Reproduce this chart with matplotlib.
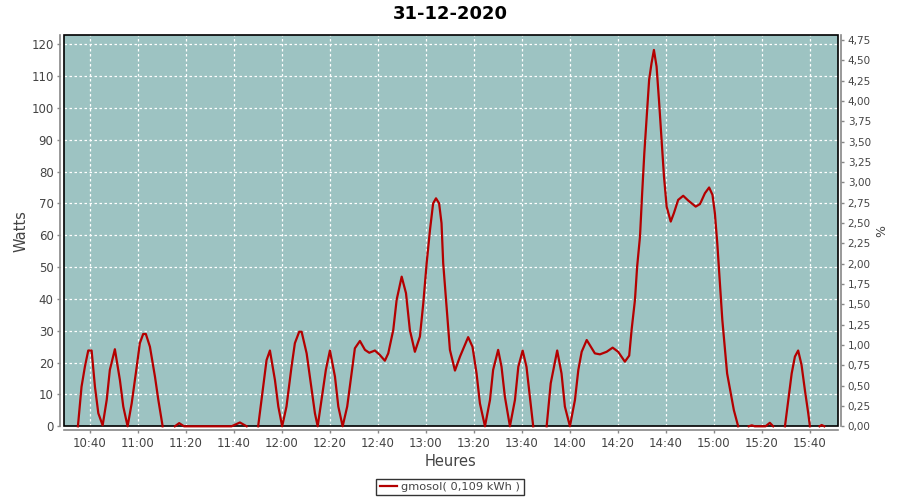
import matplotlib
matplotlib.use("Agg")
import matplotlib.pyplot as plt
from matplotlib.patches import Rectangle
from matplotlib.ticker import FixedLocator, FuncFormatter
import numpy as np

# time in minutes after 10:00, power in watts (nan = no reading)
minutes = [35.0, 36.5, 37.9, 39.3, 40.7, 42.1, 43.5, 45.3, 47.0, 48.3, 50.4, 52.5, 53.9, 55.7,
           57.4, 59.5, 60.8, 62.2, 63.3, 65.0, 67.1, 68.5, 70.3, 72.5, 75.4, 77.2, 79.2, 99.0, 102.5,
           105.3, 107.5, 110.1, 112.2, 113.6, 115.0, 117.1, 118.5, 120.1, 121.9, 124.0, 125.4, 127.2,
           128.2, 130.3, 132.4, 133.75, 134.9, 136.5, 138.3, 140.0, 142.1, 143.5, 145.3, 147.2,
           149.0, 150.4, 152.5, 154.6, 156.4, 158.75, 160.8, 162.9, 164.3, 166.4, 167.8, 169.9,
           171.7, 173.3, 175.4, 177.5, 178.9, 180.3, 181.7, 183.0, 184.2, 185.5, 186.5, 187.2,
           188.6, 190.0, 192.1, 194.2, 197.6, 199.4, 201.1, 202.5, 204.6, 206.7, 208.0, 210.1,
           211.5, 212.9, 215.0, 217.1, 218.5, 220.3, 221.9, 223.3, 224.7, 227.5, 230.3, 232.0, 234.7,
           236.5, 237.9, 240.0, 242.1, 243.5, 244.9, 247.0, 248.3, 250.4, 252.5, 255.3, 257.8,
           260.1, 262.9, 264.7, 265.7, 267.1, 268.0, 269.2, 270.1, 271.0, 272.0, 273.0, 274.0,
           275.0, 276.1, 277.1, 278.2, 279.2, 280.3, 282.0, 283.3, 285.1, 287.2, 289.3, 292.4,
           294.2, 296.25, 298.0, 299.4, 300.4, 301.4, 302.5, 303.5, 304.6, 305.5, 307.0, 308.3,
           310.1, 312.0, 314.5, 315.8, 317.0, 321.5, 323.3, 324.7, 327.0, 329.6, 331.0, 332.4, 333.75,
           335.1, 336.5, 337.9, 339.3, 340.0, 342.0, 344.0, 344.9, 346.0]
watts = [0, 12.4, 18.7, 23.8, 23.8, 12.4, 4.1, 0.3, 8.3, 17.7, 24.2, 14.5, 6.2, 0,
         7.2, 18.7, 26.1, 29.0, 29.0, 25.0, 15.6, 8.3, 0, np.nan, 0, 1.0, 0, 0, 1.2,
         0, np.nan, 0, 12.4, 20.8, 23.8, 14.5, 6.2, 0, 6.2, 18.7, 26.1, 29.7,
         29.7, 22.9, 11.4, 4.1, 0, 8.3, 17.7, 23.8, 15.6, 6.2, 0, 6.2,
         16.6, 24.5, 26.8, 24.0, 23.1, 23.8, 22.4, 20.6, 22.9, 30.3, 39.7, 47.0,
         41.8, 30.3, 23.4, 28.2, 38.6, 51.2, 61.7, 70.0, 71.6, 70.0, 63.8, 51.2,
         37.6, 24.0, 17.5, 21.9, 28.0, 25.0, 16.6, 7.2, 0, 8.3, 17.7, 24.0,
         18.7, 9.3, 0, 8.3, 18.7, 23.8, 18.7, 9.3, 0, np.nan, 0, 13.5, 23.8,
         16.6, 6.2, 0, 8.3, 17.7, 23.4, 27.1, 25.5, 22.9, 22.6, 23.4, 24.7,
         23.4, 20.3, 22.2, 30.3, 39.7, 50.1, 59.6, 73.2, 85.8, 97.3, 108.8, 114.0,
         118.2, 113.0, 102.5, 90.0, 78.4, 69.0, 64.3, 66.9, 71.1, 72.4, 70.9, 69.0,
         69.8, 73.2, 75.0, 72.7, 66.9, 57.5, 44.9, 33.4, 24.0, 16.6, 10.4, 5.1,
         0, np.nan, 0, 0.3, 0, 0, 1.1, 0, np.nan, 0, 8.3, 16.6, 21.9,
         23.8, 19.3, 11.4, 4.1, 0, np.nan, 0, 0.4, 0]

x_ticks = [40, 60, 80, 100, 120, 140, 160, 180, 200, 220, 240, 260, 280, 300, 320, 340]
left_ticks = [0, 10, 20, 30, 40, 50, 60, 70, 80, 90, 100, 110, 120]
right_ticks = [0, 0.25, 0.5, 0.75, 1.0, 1.25, 1.5, 1.75, 2.0, 2.25, 2.5, 2.75, 3.0, 3.25,
               3.5, 3.75, 4.0, 4.25, 4.5, 4.75]

title = "31-12-2020"
legend_label = "gmosol( 0,109 kWh )"

bg = "#9dc3c2"
red = "#b40000"
grey = "#888888"
txt = "#444444"

fig = plt.figure(figsize=(9, 5), dpi=100)
ax = fig.add_axes([64 / 900, 1 - 426.3 / 500, 774 / 900, 391 / 500])
ax.set_facecolor(bg)

ax.set_xlim(29.2, 351.7)
ax.set_ylim(0, 122.8)

# line sits over the frame so zero readings show on the bottom edge
line, = ax.plot(minutes, watts, color=red, linewidth=1.6, zorder=4, clip_on=False)

ax.xaxis.set_major_locator(FixedLocator(x_ticks))
ax.xaxis.set_major_formatter(FuncFormatter(lambda v, p: "%d:%02d" % (10 + int(v) // 60, int(v) % 60)))
ax.yaxis.set_major_locator(FixedLocator(left_ticks))

ax.set_axisbelow(True)
ax.grid(True, color="white", linestyle=(0, (2, 2)), linewidth=0.9)

for s in ["top", "right"]:
    ax.spines[s].set_visible(False)
for s in ["left", "bottom"]:
    ax.spines[s].set_color(grey)
    ax.spines[s].set_linewidth(1.2)
    ax.spines[s].set_position(("outward", 3))
ax.tick_params(colors=grey, labelcolor=txt, labelsize=8.5, length=2.5, width=1, pad=2)

ax.add_patch(Rectangle((0, 0), 1, 1, transform=ax.transAxes, fill=False,
                       edgecolor="black", linewidth=1.2, clip_on=False, zorder=3))

ax2 = ax.twinx()
ax2.set_ylim(0, 4.81)
ax2.yaxis.set_major_locator(FixedLocator(right_ticks))
ax2.yaxis.set_major_formatter(FuncFormatter(lambda v, p: ("%.2f" % v).replace(".", ",")))
for s in ["top", "left", "bottom"]:
    ax2.spines[s].set_visible(False)
ax2.spines["right"].set_color(grey)
ax2.spines["right"].set_linewidth(1.2)
ax2.spines["right"].set_position(("outward", 2.5))
ax2.tick_params(colors=grey, labelcolor=txt, labelsize=7.5, length=2.5, width=1, pad=2)

ax.set_xlabel("Heures", fontsize=10.5, color=txt, labelpad=3)
ax.set_ylabel("Watts", fontsize=10.5, color=txt, labelpad=2)
ax2.set_ylabel("%", fontsize=9, color=txt, labelpad=3)

fig.suptitle(title, fontsize=13, fontweight="bold", y=1 - 14 / 500, va="center")

leg = fig.legend([line], [legend_label], loc="center", bbox_to_anchor=(0.5, 1 - 487 / 500),
                 fontsize=8.2, frameon=True, fancybox=False, edgecolor="black",
                 handlelength=1.5, handletextpad=0.4, borderpad=0.3, borderaxespad=0)
leg.get_frame().set_linewidth(1.0)
for t in leg.get_texts():
    t.set_color(txt)

fig.savefig("out.png", dpi=100)
